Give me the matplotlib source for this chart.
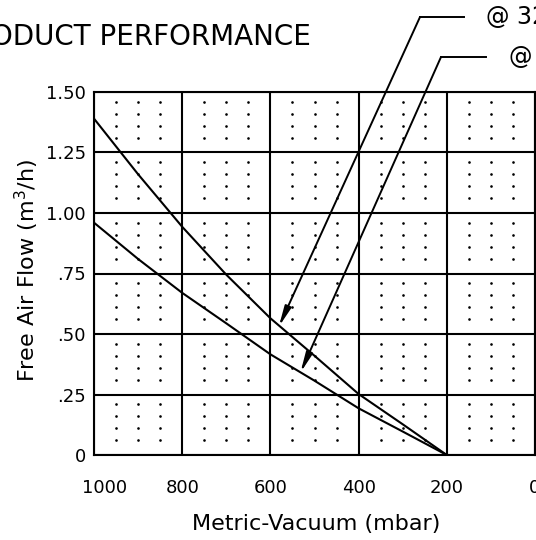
import numpy as np
import matplotlib
matplotlib.use("Agg")
import matplotlib.pyplot as plt
from matplotlib.lines import Line2D
from matplotlib.transforms import ScaledTranslation

# Vacuum (mbar) and free air flow (m3/h)
vacuum = [1000, 900, 800, 700, 600, 500, 400, 300, 200]
flow_upper = [1.39, 1.16, 0.943, 0.745, 0.565, 0.41, 0.252, 0.127, 0.0]
flow_lower = [0.96, 0.81, 0.67, 0.544, 0.416, 0.307, 0.193, 0.097, 0.0]

x_ticks = [1000, 800, 600, 400, 200, 0]
y_ticks = [0, 0.25, 0.5, 0.75, 1.0, 1.25, 1.5]
y_tick_labels = ["0", ".25", ".50", ".75", "1.00", "1.25", "1.50"]

title = "PRODUCT PERFORMANCE"
label_upper = "@ 32"
label_lower = "@"
tip_upper = (581, 0.53)
tip_lower = (532, 0.34)

plt.rcParams['font.family'] = ['DejaVu Sans']

W, H = 536, 540
fig = plt.figure(figsize=(W / 100, H / 100), dpi=100)
ax = fig.add_axes([94 / W, (H - 455) / H, (535 - 94) / W, 363 / H])

ax.set_xlim(1000, 0)
ax.set_ylim(0, 1.5)

# Major grid
for xv in x_ticks:
    ax.axvline(xv, color='black', lw=1.5, zorder=1)
for yv in y_ticks:
    ax.axhline(yv, color='black', lw=1.5, zorder=1)

# Dotted minor grid inside each cell
dx = np.array([50, 100, 150])
dy = np.array([0.06, 0.11, 0.16, 0.21])
dot_x = np.concatenate([x0 + dx for x0 in range(0, 1000, 200)])
dot_y = np.concatenate([y0 + dy for y0 in np.arange(0, 1.5, 0.25)])
gx, gy = np.meshgrid(dot_x, dot_y)
ax.plot(gx.ravel(), gy.ravel(), 'o', color='black', markersize=1.9,
        markeredgewidth=0, zorder=1)

# Performance curves
ax.plot(vacuum, flow_upper, color='black', lw=1.5, zorder=3)
ax.plot(vacuum, flow_lower, color='black', lw=1.5, zorder=3)

for s in ax.spines.values():
    s.set_linewidth(1.5)

ax.set_xticks(x_ticks)
ax.set_xticklabels([str(v) for v in x_ticks])
ax.set_yticks(y_ticks)
ax.set_yticklabels(y_tick_labels)
ax.tick_params(axis='both', length=0, labelsize=13)
ax.tick_params(axis='x', pad=17)
ax.tick_params(axis='y', pad=6)
# shift the "1000" label to the right like the original
first = ax.get_xticklabels()[0]
first.set_transform(first.get_transform() + ScaledTranslation(0.11, 0, fig.dpi_scale_trans))

fig.text(316.5 / W, (H - 524) / H, "Metric-Vacuum (mbar)", fontsize=16,
         ha='center', va='center')
fig.text(26.5 / W, (H - 270) / H, "Free Air Flow (m$^3$/h)", fontsize=16,
         rotation=90, ha='center', va='center')
fig.text(311 / W, (H - 37) / H, title, fontsize=20, ha='right', va='center')

# Leader arrows with labels
arrow_style = dict(arrowstyle='-|>,head_length=1.2,head_width=0.2', lw=1.4,
                   color='black', shrinkA=0, shrinkB=0)
ax.annotate('', xy=tip_upper, xycoords='data', xytext=(420, H - 17),
            textcoords='figure pixels', arrowprops=arrow_style,
            annotation_clip=False)
ax.annotate('', xy=tip_lower, xycoords='data', xytext=(441, H - 57),
            textcoords='figure pixels', arrowprops=arrow_style,
            annotation_clip=False)
fig.add_artist(Line2D([420 / W, 464 / W], [(H - 17) / H] * 2, color='black', lw=1.4))
fig.add_artist(Line2D([441 / W, 486 / W], [(H - 57) / H] * 2, color='black', lw=1.4))
fig.text(486 / W, (H - 17) / H, label_upper, fontsize=17, ha='left', va='center')
fig.text(508 / W, (H - 57) / H, label_lower, fontsize=17, ha='left', va='center')

fig.savefig("out.png", dpi=100)
